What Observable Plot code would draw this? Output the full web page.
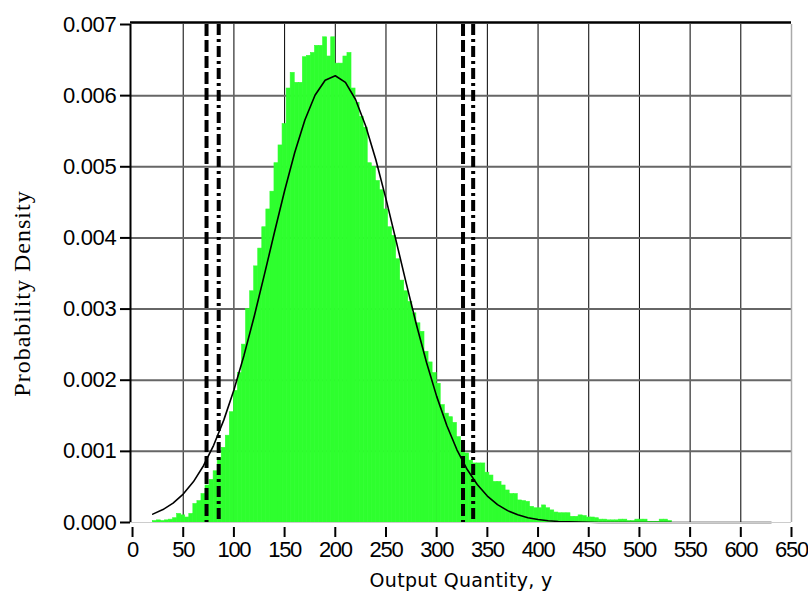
<!DOCTYPE html>
<html>
<head>
<meta charset="utf-8">
<script src="https://cdn.jsdelivr.net/npm/d3@7"></script>
<script src="https://cdn.jsdelivr.net/npm/@observablehq/plot@0.6"></script>
<style>
  html, body { margin: 0; padding: 0; background: #fff; }
  #chart svg [aria-label="x-axis tick label"] text { letter-spacing: -1.3px; }
  #chart svg [aria-label="y-axis tick label"] text { letter-spacing: -0.3px; }
  #chart svg .ylab text { letter-spacing: 1px; }
  #chart svg .xlab text { letter-spacing: 0.3px; }
</style>
</head>
<body>
<div id="chart"></div>
<script>
// Histogram: bins of equal width starting at binStart
const binStart = 20;
const binWidth = 4;
const density = [
  0.00002, 0.00003, 0.00002, 0.00003, 0.00004, 0.00006, 0.00012, 0.00010,
  0.00007, 0.00012, 0.00026, 0.00030, 0.00040, 0.00052, 0.00060, 0.00072,
  0.00090, 0.00105, 0.00122, 0.00155, 0.00185, 0.00210, 0.00250, 0.00300,
  0.00325, 0.00360, 0.00385, 0.00415, 0.00440, 0.00465, 0.00505, 0.00530,
  0.00560, 0.00610, 0.00632, 0.00618, 0.00618, 0.00654, 0.00656, 0.00660,
  0.00670, 0.00670, 0.00682, 0.00655, 0.00682, 0.00645, 0.00645, 0.00655,
  0.00660, 0.00610, 0.00590, 0.00570, 0.00555, 0.00505, 0.00500, 0.00480,
  0.00467, 0.00440, 0.00415, 0.00403, 0.00370, 0.00340, 0.00325, 0.00310,
  0.00294, 0.00280, 0.00268, 0.00240, 0.00225, 0.00210, 0.00195, 0.00165,
  0.00153, 0.00148, 0.00140, 0.00120, 0.00100, 0.00097, 0.00087, 0.00083,
  0.00083, 0.00083, 0.00070, 0.00066, 0.00057, 0.00057, 0.00052, 0.00045,
  0.00040, 0.00040, 0.00031, 0.00030, 0.00029, 0.00022, 0.00020, 0.00020,
  0.00024, 0.00020, 0.00017, 0.00014, 0.00013, 0.00013, 0.00013, 0.00008,
  0.00008, 0.00010, 0.00009, 0.00007, 0.00007, 0.00006, 0.00004, 0.00004,
  0.00003, 0.00003, 0.00003, 0.00004, 0.00004, 0.00002, 0.00002, 0.00004,
  0.00004, 0.00004, 0.00001, 0.00001, 0.00001, 0.00004, 0.00004, 0.00002
];

// Fitted density curve
const curveX = [20, 30, 40, 50, 60, 70, 80, 90, 100, 110, 120, 130, 140, 150, 160, 170,
  180, 190, 200, 210, 220, 230, 240, 250, 260, 270, 280, 290, 300, 310, 320, 330, 340,
  350, 360, 370, 380, 390, 400, 410, 420, 430, 440, 450, 460, 480, 500, 530, 560, 600, 630];
const curveY = [0.000118, 0.000182, 0.000273, 0.000400, 0.000572, 0.000798, 0.001085,
  0.001439, 0.001863, 0.002352, 0.002896, 0.003480, 0.004079, 0.004663, 0.005201,
  0.005658, 0.006005, 0.006217, 0.006280, 0.006186, 0.005946, 0.005574, 0.005099,
  0.004549, 0.003959, 0.003361, 0.002784, 0.002249, 0.001773, 0.001363, 0.001022,
  0.000748, 0.000534, 0.000372, 0.000252, 0.000167, 0.000108, 0.000068, 0.000042,
  0.000025, 0.000015, 0.000009, 0.000005, 0.000003, 0.000001, 0, 0, 0, 0, 0, 0];

// Interval limits
const dashedLimits = [73, 326];
const dashDotLimits = [85, 336];

// Axis ticks
const xTicks = [0, 50, 100, 150, 200, 250, 300, 350, 400, 450, 500, 550, 600, 650];
const yTicks = [0, 0.001, 0.002, 0.003, 0.004, 0.005, 0.006, 0.007];
const xLabel = "Output Quantity, y";
const yLabel = "Probability Density";

const bins = density.map((d, i) => ({x1: binStart + i * binWidth, x2: binStart + (i + 1) * binWidth, y: d}));
const curve = curveX.map((x, i) => ({x, y: curveY[i]}));
const green = "#2eff2e";

const chart = Plot.plot({
  width: 808,
  height: 597,
  marginLeft: 130,
  marginRight: 17,
  marginTop: 24,
  marginBottom: 75,
  style: {fontFamily: "'Liberation Sans', Arial, sans-serif", fontSize: "22px", background: "#fff", color: "#000"},
  x: {domain: [-2, 650]},
  y: {domain: [0, 0.007]},
  marks: [
    Plot.gridX(xTicks.slice(1, 13), {stroke: "#000", strokeOpacity: 1, strokeWidth: 1}),
    Plot.gridY(yTicks.slice(1, 7), {stroke: "#666", strokeOpacity: 1, strokeWidth: 2}),
    Plot.rectY(bins, {x1: "x1", x2: "x2", y: "y", fill: green, stroke: green, strokeWidth: 0.6, inset: 0}),
    Plot.line(curve, {x: "x", y: "y", stroke: "#000", strokeWidth: 1.6}),
    Plot.ruleX(dashedLimits, {stroke: "#000", strokeWidth: 4, strokeDasharray: "12,4"}),
    Plot.ruleX(dashDotLimits, {stroke: "#000", strokeWidth: 4, strokeDasharray: "11,4,3,4"}),
    Plot.ruleX([650], {stroke: "#aaa", strokeWidth: 1.5}),
    Plot.ruleY([0], {stroke: "#ccc", strokeWidth: 1}),
    Plot.ruleY([0.007], {stroke: "#000", strokeWidth: 2.5, dy: -2}),
    Plot.ruleX([-2], {stroke: "#000", strokeWidth: 2, y1: 0, y2: 0.007}),
    Plot.axisX(xTicks, {tickSize: 10, tickPadding: 4, dy: 5, strokeWidth: 2, label: null, fontSize: 22}),
    Plot.axisY(yTicks, {tickSize: 10, tickPadding: 4, strokeWidth: 2, label: null, fontSize: 22, tickFormat: d3.format(".3f")}),
    Plot.text([yLabel], {frameAnchor: "left", textAnchor: "middle", dx: -108, dy: 20, rotate: -90, fontFamily: "'Liberation Serif', 'Times New Roman', serif", fontSize: 24, fill: "#000", className: "ylab"}),
    Plot.text([xLabel], {frameAnchor: "bottom", dy: 64, fontFamily: "'DejaVu Sans', Verdana, sans-serif", fontSize: 19, fill: "#000", className: "xlab"})
  ]
});
document.getElementById("chart").appendChild(chart);
</script>
</body>
</html>
